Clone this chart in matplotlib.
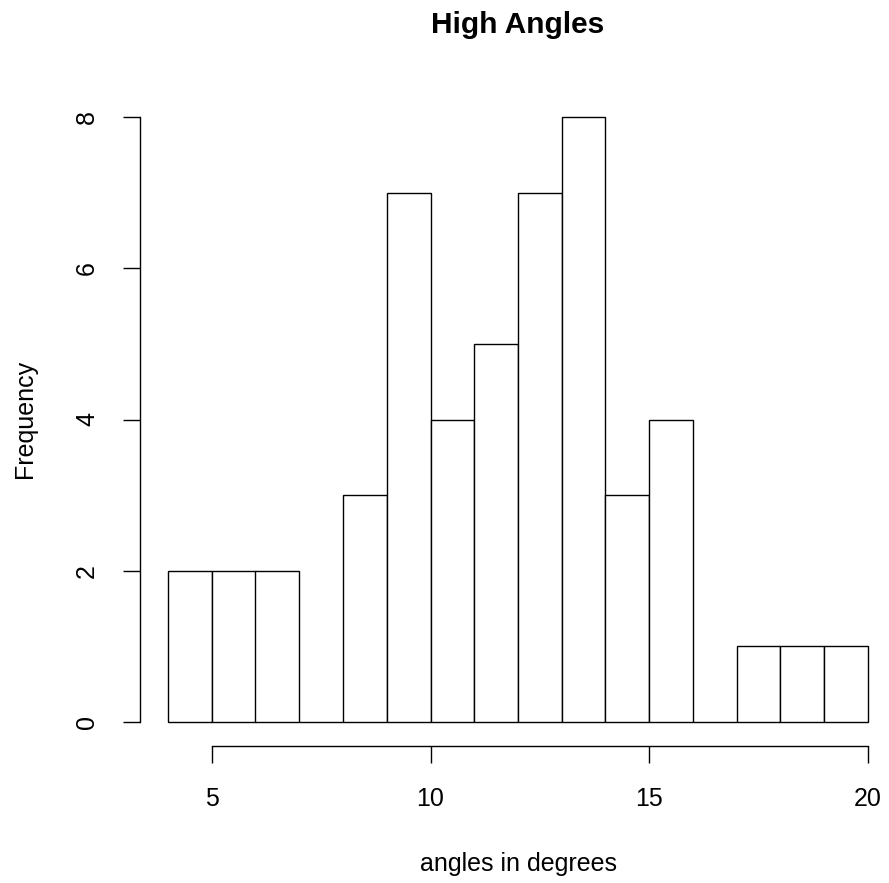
import numpy as np
import matplotlib
matplotlib.use("Agg")
import matplotlib.pyplot as plt

# histogram bins (1 degree wide) and counts
bin_edges = [4, 5, 6, 7, 8, 9, 10, 11, 12, 13, 14, 15, 16, 17, 18, 19, 20]
counts = [2, 2, 2, 0, 3, 7, 4, 5, 7, 8, 3, 4, 0, 1, 1, 1]
x_ticks = [5, 10, 15, 20]
y_ticks = [0, 2, 4, 6, 8]

plt.rcParams['font.family'] = ['Liberation Sans', 'DejaVu Sans']

W, H = 889, 883
fig = plt.figure(figsize=(W/100, H/100), dpi=100)

# plot region in pixels, R style with 4% padding on each side
left, right, top, bottom = 140, 896, 93, 746
ax = fig.add_axes([left/W, 1-bottom/H, (right-left)/W, (bottom-top)/H])

lefts = np.array(bin_edges[:-1])
widths = np.diff(bin_edges)
ax.bar(lefts, counts, width=widths, align='edge', facecolor='white',
       edgecolor='black', linewidth=1.0)

ax.set_xlim(3.36, 20.64)
ax.set_ylim(-0.32, 8.32)

for s in ['top', 'right']:
    ax.spines[s].set_visible(False)
ax.spines['left'].set_bounds(0, 8)
ax.spines['bottom'].set_bounds(5, 20)
ax.spines['left'].set_linewidth(1.0)
ax.spines['bottom'].set_linewidth(1.0)

ax.set_xticks(x_ticks)
ax.set_xticklabels([str(v) for v in x_ticks])
ax.set_yticks(y_ticks)
ax.set_yticklabels([str(v) for v in y_ticks], rotation=90, va='center')
ax.tick_params(axis='both', direction='out', length=12.5, width=1.0,
               labelsize=18, pad=17)

fig.text(518/W, 1-25/H, 'High Angles', ha='center', va='center',
         fontsize=21.5, fontweight='bold')
fig.text(518/W, 1-864/H, 'angles in degrees', ha='center', va='center',
         fontsize=18)
fig.text(25/W, 1-419/H, 'Frequency', ha='center', va='center',
         fontsize=18, rotation=90)

fig.savefig('out.png', dpi=100)
